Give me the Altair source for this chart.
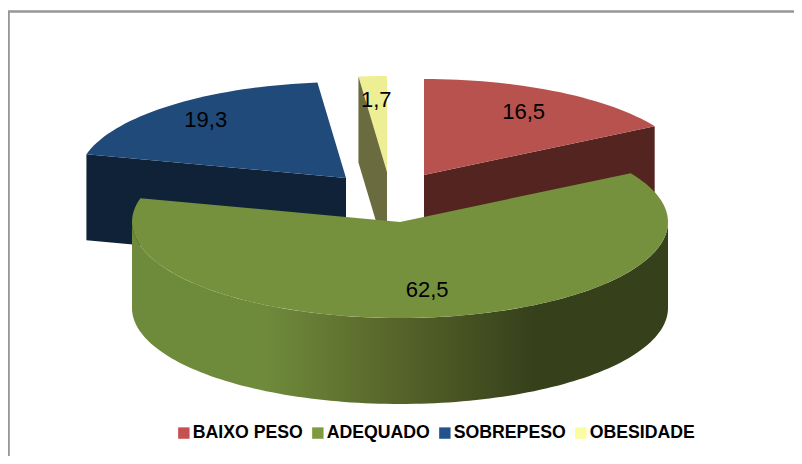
import math
import altair as alt
import pandas as pd

categories = ["BAIXO PESO", "ADEQUADO", "SOBREPESO", "OBESIDADE"]
values = [16.5, 62.5, 19.3, 1.7]
colors_top = ["#B7524E", "#76913D", "#204A79", "#EEEE94"]
colors_wall = ["#542421", None, "#0F2237", "#6B6B40"]
legend_colors = ["#C4504F", "#7F993F", "#24538C", "#FBFBA0"]

# exploded slice centres, ellipse radii and extrusion depth (page pixels)
centres = [(424, 175), (400, 222), (346, 178), (387, 172)]
RX, RY, DEPTH = 268, 96, 86
label_r = [0.75, 0.72, 0.80, 0.75]
X0, X1, Y0, Y1 = 8, 794, 8, 456

starts = []
acc = 0.0
for v in values:
    starts.append(acc)
    acc += v


def pt(c, pct, r=1.0, dy=0.0):
    a = pct / 100 * 2 * math.pi
    return c[0] + r * RX * math.sin(a), c[1] - r * RY * math.cos(a) + dy


def top_face(c, a, b):
    n = max(2, int((b - a) * 2))
    return [c] + [pt(c, a + (b - a) * i / n) for i in range(n + 1)]


def frame(pts):
    return pd.DataFrame({"x": [p[0] for p in pts], "y": [p[1] for p in pts], "o": list(range(len(pts)))})


x_enc = alt.X("x:Q", axis=None, scale=alt.Scale(domain=[X0, X1], nice=False, zero=False))
y_enc = alt.Y("y:Q", axis=None, scale=alt.Scale(domain=[Y1, Y0], nice=False, zero=False))


def poly(pts, fill):
    return alt.Chart(frame(pts)).mark_line(
        fill=fill, strokeWidth=0, interpolate="linear-closed", clip=False
    ).encode(x=x_enc, y=y_enc, order="o:Q")


layers = []
# frame of the chart area (left and top edges only)
layers.append(
    alt.Chart(frame([(8.6, Y1), (8.6, 11.5), (X1, 11.5)])).mark_line(
        stroke="#969696", strokeWidth=2.4
    ).encode(x=x_enc, y=y_enc, order="o:Q")
)
# obesidade
c = centres[3]
e = pt(c, starts[3])
layers.append(poly(top_face(c, starts[3], 100), colors_top[3]))
layers.append(poly([e, c, (c[0], c[1] + DEPTH), (e[0], e[1] + DEPTH)], colors_wall[3]))
# sobrepeso
c = centres[2]
e = pt(c, starts[2])
layers.append(poly([e, c, (c[0], c[1] + DEPTH), (e[0], e[1] + DEPTH)], colors_wall[2]))
layers.append(poly(top_face(c, starts[2], starts[2] + values[2]), colors_top[2]))
# baixo peso
c = centres[0]
e = pt(c, values[0])
layers.append(poly([e, c, (c[0], c[1] + DEPTH), (e[0], e[1] + DEPTH)], colors_wall[0]))
layers.append(poly(top_face(c, 0, values[0]), colors_top[0]))
# adequado: curved outer wall (front half) and top
c = centres[1]
front = [pt(c, 25.0 + 50.0 * i / 120) for i in range(121)]
wall = front + [(p[0], p[1] + DEPTH) for p in reversed(front)]
grad = {
    "gradient": "linear", "x1": 0, "x2": 1, "y1": 0, "y2": 0,
    "stops": [
        {"offset": 0.0, "color": "#6E8A3C"},
        {"offset": 0.25, "color": "#6F8A3B"},
        {"offset": 0.5, "color": "#566329"},
        {"offset": 0.75, "color": "#36401B"},
        {"offset": 1.0, "color": "#36401B"},
    ],
}
layers.append(poly(wall, grad))
layers.append(poly(top_face(c, starts[1], starts[1] + values[1]), colors_top[1]))

# value labels
lab = []
for i, v in enumerate(values):
    p = pt(centres[i], starts[i] + v / 2, r=label_r[i])
    lab.append({"x": p[0], "y": p[1], "t": f"{v:.1f}".replace(".", ",")})
layers.append(
    alt.Chart(pd.DataFrame(lab)).mark_text(
        font="Liberation Sans", fontSize=22, color="#000000", baseline="middle", align="center"
    ).encode(x=x_enc, y=y_enc, text="t:N")
)

# legend carrier
legend = alt.Legend(
    orient="none", legendX=167, legendY=416, direction="horizontal", title=None,
    symbolType="square", symbolSize=130, symbolStrokeWidth=0, symbolOpacity=1,
    labelFont="Liberation Sans", labelFontWeight="bold", labelFontSize=17.7,
    labelColor="#000000", columnPadding=6, labelOffset=0, columns=4, padding=0,
)
layers.append(
    alt.Chart(pd.DataFrame({"cat": categories})).mark_square(size=0, opacity=0).encode(
        x=alt.value(0), y=alt.value(0),
        color=alt.Color("cat:N", sort=categories,
                        scale=alt.Scale(domain=categories, range=legend_colors), legend=legend),
    )
)

chart = alt.layer(*layers).properties(
    width=X1 - X0, height=Y1 - Y0, padding=0,
    autosize=alt.AutoSizeParams(type="none"),
).configure_view(stroke=None)

chart.save("out.html", embed_options={"renderer": "svg", "actions": False})
